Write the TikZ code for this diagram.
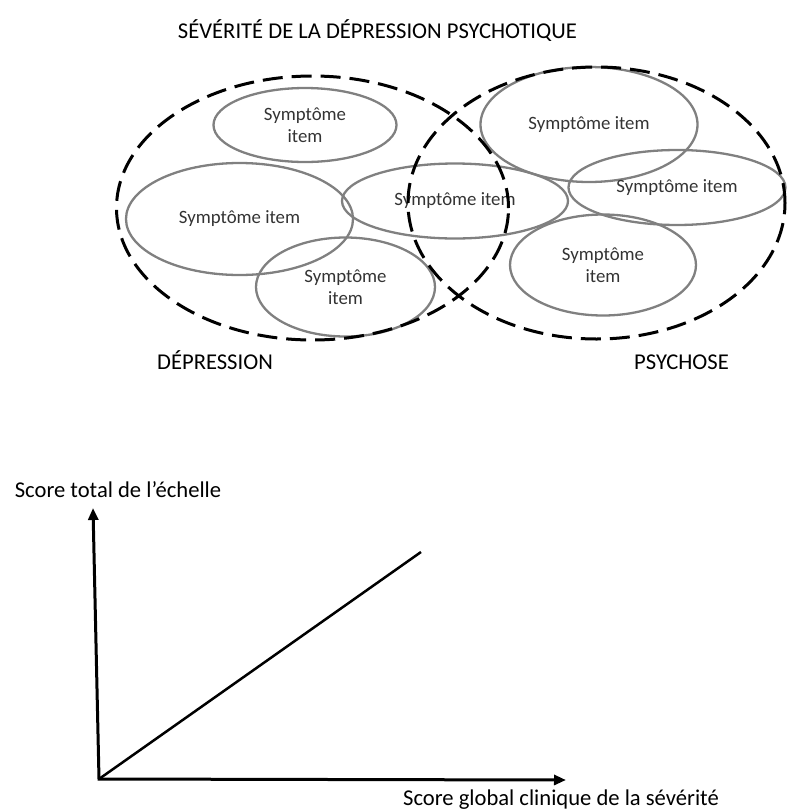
\documentclass[tikz,border=0pt]{standalone}
\usepackage{fontspec}
\setmainfont{Carlito}
\usetikzlibrary{shapes.geometric,arrows.meta}

\begin{document}
\begin{tikzpicture}[x=1pt, y=-1pt,
	symptome/.style={ellipse, draw=black!50, line width=2.3pt, inner sep=0pt, text=black!80, font=\fontsize{18.8}{22}\selectfont, align=center},
	groupe/.style={ellipse, draw=black, line width=3pt, dash pattern=on 20pt off 9pt, inner sep=0pt},
	etiquette/.style={font=\fontsize{22.6}{27}\selectfont, anchor=base},
	axe/.style={line width=3pt, line join=miter, {Triangle[length=12pt,width=10pt]}-{Triangle[length=12pt,width=10pt]}}]
	\useasboundingbox (0,0) rectangle (787,812);

	% titre
	\node[etiquette] (titre) at (377.5,38) {SÉVÉRITÉ DE LA DÉPRESSION PSYCHOTIQUE};

	% items
	\node[symptome, minimum width=183pt, minimum height=74pt] (s1) at (305,125) {Symptôme\\item};
	\node[symptome, minimum width=227pt, minimum height=112pt] (s2) at (239.5,219) {Symptôme item};
	\node[symptome, minimum width=179pt, minimum height=99pt] (s3) at (345.5,287) {Symptôme\\item};
	\node[symptome, minimum width=226pt, minimum height=75pt] (s4) at (455,201) {Symptôme item};
	\node[symptome, minimum width=217pt, minimum height=115pt] (s5) at (589,124.5) {Symptôme item};
	\node[symptome, minimum width=217pt, minimum height=75pt] (s6) at (677,187.5) {Symptôme item};
	\node[symptome, minimum width=186pt, minimum height=101pt] (s7) at (603,265) {Symptôme\\item};

	% depression et psychose
	\node[groupe, minimum width=392pt, minimum height=264pt] (dep) at (312.5,208) {};
	\node[groupe, minimum width=377pt, minimum height=272pt] (psy) at (596.5,203) {};
	\node[etiquette] (labdep) at (215,369) {DÉPRESSION};
	\node[etiquette] (labpsy) at (681.5,369) {PSYCHOSE};

	% axes
	\coordinate (origine) at (99,779);
	\coordinate (ymax) at (93,508);
	\coordinate (xmax) at (566,780);
	\coordinate (fin) at (421,552);
	\draw[axe] (ymax) -- (origine) -- (xmax);
	\draw[line width=2.5pt] (origine) -- (fin);
	\node[etiquette] (laby) at (118,497) {Score total de l’échelle};
	\node[etiquette] (labx) at (561,805) {Score global clinique de la sévérité};
\end{tikzpicture}
\end{document}
